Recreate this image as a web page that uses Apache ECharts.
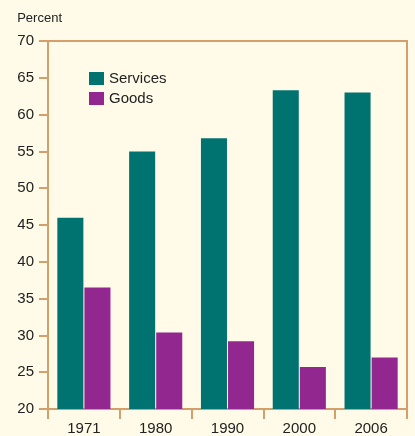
<!DOCTYPE html>
<html>
<head>
<meta charset="utf-8">
<script src="https://cdn.jsdelivr.net/npm/echarts@6/dist/echarts.min.js"></script>
<style>
  html, body { margin: 0; padding: 0; background: #fffbe8; }
  #chart { width: 415px; height: 436px; }
</style>
</head>
<body>
<div id="chart"></div>
<script>
const years = ["1971", "1980", "1990", "2000", "2006"];
const services = [46.0, 55.0, 56.8, 63.3, 63.0];
const goods = [36.5, 30.4, 29.2, 25.7, 27.0];
const yTicks = [20, 70, 5]; // min, max, step

const tan = "#d3a06c";
const font = "'Liberation Sans Narrow', 'Liberation Sans', Arial, sans-serif";

const chart = echarts.init(document.getElementById("chart"));
chart.setOption({
  backgroundColor: "#fffbe8",
  animation: false,
  color: ["#007370", "#92278f"],
  textStyle: { fontFamily: font },
  grid: {
    left: 48, right: 8, top: 41, bottom: 24,
    show: true, borderColor: tan, borderWidth: 2, backgroundColor: "transparent"
  },
  legend: {
    data: ["Services", "Goods"],
    orient: "vertical",
    left: 89, top: 71, padding: 0,
    itemWidth: 15, itemHeight: 13, itemGap: 5,
    icon: "rect",
    textStyle: { fontSize: 15, color: "#222", fontFamily: font }
  },
  xAxis: {
    type: "category",
    data: years,
    axisLine: { lineStyle: { color: tan, width: 2 } },
    axisTick: { show: true, inside: false, length: 10, lineStyle: { color: tan, width: 2 } },
    axisLabel: { color: "#222", fontSize: 15, margin: 12, fontFamily: font }
  },
  yAxis: {
    type: "value",
    min: yTicks[0], max: yTicks[1], interval: yTicks[2],
    name: "Percent",
    nameLocation: "end",
    nameGap: 16,
    nameTextStyle: { color: "#222", fontSize: 13, align: "right", padding: [0, -14, 0, 0], fontFamily: font },
    axisLine: { show: true, lineStyle: { color: tan, width: 2 } },
    axisTick: { show: true, inside: false, length: 9, lineStyle: { color: tan, width: 2 } },
    splitLine: { show: false },
    axisLabel: { color: "#222", fontSize: 15, margin: 14, fontFamily: font }
  },
  series: [
    { name: "Services", type: "bar", data: services, barGap: "4%", barCategoryGap: "26%" },
    { name: "Goods", type: "bar", data: goods, barGap: "4%", barCategoryGap: "26%" }
  ]
});
</script>
</body>
</html>
